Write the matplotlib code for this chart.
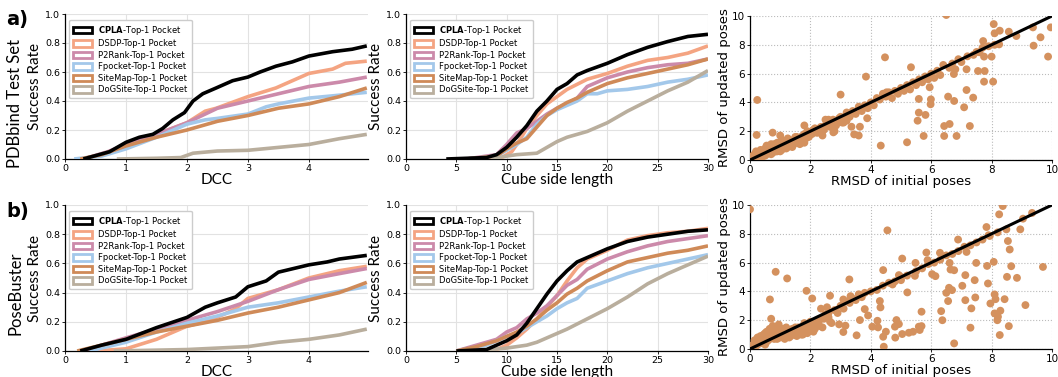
import matplotlib
matplotlib.use("Agg")
import matplotlib.pyplot as plt
from matplotlib.patches import Patch

# ---- data ----
methods = ['CPLA', 'DSDP', 'P2Rank', 'Fpocket', 'SiteMap', 'DoGSite']
colors = ['#000000', '#f4a482', '#cc8aaa', '#a3c8ea', '#cf8a58', '#b9ae9d']

# row a) PDBbind test set, success rate vs DCC
a_dcc_cpla = ([0.3, 0.73, 1.0, 1.22, 1.44, 1.6, 1.77, 1.96, 2.1, 2.26, 2.48, 2.75, 3.0, 3.2, 3.46, 3.73, 4.0, 4.39, 4.71, 4.95],
              [0.0, 0.05, 0.115, 0.15, 0.17, 0.21, 0.27, 0.32, 0.40, 0.45, 0.49, 0.54, 0.565, 0.60, 0.64, 0.67, 0.71, 0.74, 0.757, 0.78])
a_dcc_dsdp = ([0.3, 0.7, 1.0, 1.5, 2.0, 2.3, 2.48, 3.0, 3.46, 3.73, 4.0, 4.39, 4.6, 4.95],
              [0.0, 0.04, 0.08, 0.17, 0.25, 0.33, 0.35, 0.43, 0.49, 0.54, 0.59, 0.62, 0.66, 0.675])
a_dcc_p2rank = ([0.3, 0.7, 1.0, 1.5, 2.0, 2.3, 2.5, 3.0, 3.5, 4.0, 4.5, 4.95],
                [0.0, 0.05, 0.10, 0.17, 0.25, 0.31, 0.35, 0.40, 0.45, 0.50, 0.53, 0.565])
a_dcc_fpocket = ([0.15, 0.6, 1.0, 1.5, 2.0, 2.3, 2.5, 3.0, 3.3, 3.5, 4.0, 4.5, 4.95],
                 [0.0, 0.02, 0.07, 0.15, 0.24, 0.27, 0.28, 0.31, 0.36, 0.38, 0.42, 0.44, 0.46])
a_dcc_sitemap = ([0.25, 0.6, 1.0, 1.5, 2.0, 2.5, 3.0, 3.5, 4.0, 4.5, 4.95],
                 [0.0, 0.03, 0.09, 0.15, 0.20, 0.26, 0.30, 0.35, 0.38, 0.43, 0.49])
a_dcc_dogsite = ([0.85, 1.5, 1.9, 2.1, 2.5, 3.0, 3.5, 4.0, 4.5, 4.95],
                 [0.0, 0.005, 0.01, 0.04, 0.055, 0.06, 0.08, 0.10, 0.14, 0.17])

# row a) success rate vs cube side length
a_cube_cpla = ([4, 8, 9, 10, 11, 12, 13, 14, 15, 16, 17, 18, 20, 22, 24, 26, 28, 30],
               [0.0, 0.01, 0.03, 0.08, 0.15, 0.23, 0.33, 0.40, 0.48, 0.52, 0.58, 0.61, 0.66, 0.72, 0.77, 0.81, 0.845, 0.86])
a_cube_dsdp = ([6, 9.5, 10.5, 11, 12, 13, 14, 15, 16, 18, 20, 22, 24, 26, 28, 30],
               [0.0, 0.01, 0.05, 0.10, 0.21, 0.30, 0.38, 0.43, 0.48, 0.55, 0.59, 0.64, 0.68, 0.70, 0.73, 0.78])
a_cube_p2rank = ([6, 9, 10, 11, 12, 13, 14, 15, 16, 17, 18, 20, 22, 24, 26, 28, 30],
                 [0.0, 0.03, 0.10, 0.18, 0.21, 0.26, 0.31, 0.35, 0.38, 0.42, 0.50, 0.56, 0.60, 0.63, 0.65, 0.66, 0.69])
a_cube_fpocket = ([6, 9, 10, 11, 12, 13, 14, 15, 16, 17, 18, 19, 20, 22, 24, 26, 28, 30],
                  [0.0, 0.02, 0.06, 0.10, 0.15, 0.24, 0.30, 0.34, 0.37, 0.40, 0.45, 0.45, 0.47, 0.48, 0.50, 0.53, 0.55, 0.58])
a_cube_sitemap = ([6, 9, 10, 11, 12, 13, 14, 15, 16, 17, 18, 20, 22, 24, 26, 28, 30],
                  [0.0, 0.02, 0.07, 0.11, 0.14, 0.22, 0.30, 0.35, 0.39, 0.42, 0.46, 0.52, 0.56, 0.59, 0.62, 0.65, 0.69])
a_cube_dogsite = ([8.5, 10, 11, 13, 14, 15, 16, 18, 20, 22, 24, 26, 28, 30],
                  [0.0, 0.02, 0.03, 0.04, 0.08, 0.12, 0.15, 0.19, 0.25, 0.33, 0.40, 0.47, 0.53, 0.61])

# row b) PoseBuster, success rate vs DCC
b_dcc_cpla = ([0.25, 0.6, 1.0, 1.5, 2.0, 2.3, 2.5, 2.8, 3.0, 3.3, 3.5, 4.0, 4.3, 4.5, 4.95],
              [0.0, 0.04, 0.08, 0.16, 0.23, 0.30, 0.33, 0.37, 0.44, 0.48, 0.54, 0.59, 0.61, 0.63, 0.655])
b_dcc_dsdp = ([0.5, 1.0, 1.5, 2.0, 2.3, 2.6, 2.8, 3.0, 3.5, 4.0, 4.5, 4.95],
              [0.0, 0.015, 0.08, 0.17, 0.20, 0.25, 0.29, 0.36, 0.42, 0.50, 0.55, 0.58])
b_dcc_p2rank = ([0.3, 0.6, 1.0, 1.5, 2.0, 2.5, 3.0, 3.5, 4.0, 4.5, 4.95],
                [0.0, 0.04, 0.09, 0.15, 0.21, 0.27, 0.34, 0.42, 0.49, 0.53, 0.565])
b_dcc_fpocket = ([0.4, 0.7, 1.0, 1.5, 2.0, 2.5, 3.0, 3.5, 4.0, 4.5, 4.95],
                 [0.0, 0.03, 0.06, 0.13, 0.19, 0.24, 0.30, 0.33, 0.37, 0.41, 0.44])
b_dcc_sitemap = ([0.2, 0.6, 1.0, 1.5, 2.0, 2.5, 3.0, 3.5, 4.0, 4.5, 4.95],
                 [0.0, 0.04, 0.08, 0.13, 0.17, 0.21, 0.26, 0.30, 0.35, 0.40, 0.47])
b_dcc_dogsite = ([0.8, 2.0, 3.0, 3.5, 4.0, 4.5, 4.95],
                 [0.0, 0.01, 0.03, 0.06, 0.08, 0.11, 0.15])

# row b) success rate vs cube side length
b_cube_cpla = ([5, 8, 10, 11, 12, 13, 14, 15, 16, 17, 18, 20, 22, 24, 26, 28, 30],
               [0.0, 0.01, 0.07, 0.11, 0.19, 0.29, 0.39, 0.48, 0.55, 0.61, 0.64, 0.70, 0.75, 0.78, 0.80, 0.82, 0.83])
b_cube_dsdp = ([6, 9, 10, 11, 12, 13, 14, 15, 16, 17, 18, 20, 22, 24, 26, 28, 30],
               [0.0, 0.01, 0.04, 0.09, 0.15, 0.22, 0.30, 0.38, 0.48, 0.57, 0.63, 0.69, 0.76, 0.79, 0.81, 0.82, 0.84])
b_cube_p2rank = ([5, 7, 8, 9, 10, 11, 12, 13, 14, 15, 16, 17, 18, 20, 22, 24, 26, 28, 30],
                 [0.0, 0.04, 0.06, 0.08, 0.13, 0.16, 0.22, 0.26, 0.31, 0.38, 0.45, 0.49, 0.56, 0.63, 0.68, 0.72, 0.75, 0.77, 0.79])
b_cube_fpocket = ([5, 8, 10, 11, 12, 13, 14, 15, 16, 17, 18, 20, 22, 24, 26, 28, 30],
                  [0.0, 0.04, 0.10, 0.12, 0.16, 0.20, 0.24, 0.29, 0.33, 0.36, 0.43, 0.48, 0.53, 0.57, 0.60, 0.63, 0.66])
b_cube_sitemap = ([5, 7, 9, 10, 11, 12, 13, 14, 15, 16, 17, 18, 20, 22, 24, 26, 28, 30],
                  [0.0, 0.03, 0.07, 0.10, 0.13, 0.17, 0.22, 0.28, 0.33, 0.39, 0.43, 0.48, 0.55, 0.61, 0.64, 0.67, 0.69, 0.72])
b_cube_dogsite = ([7, 10, 12, 13, 14, 15, 16, 18, 20, 22, 24, 26, 28, 30],
                  [0.0, 0.02, 0.04, 0.06, 0.09, 0.12, 0.15, 0.22, 0.29, 0.37, 0.46, 0.53, 0.59, 0.65])

# RMSD scatter, row a
a_rmsd_init = [0.05, 0.1, 0.15, 0.2, 0.25, 0.3, 0.35, 0.4, 0.45, 0.5, 0.5, 0.55, 0.6, 0.65, 0.7, 0.7, 0.75, 0.8, 0.85, 0.9,
               0.95, 1.0, 1.0, 1.05, 1.1, 1.15, 1.2, 1.25, 1.3, 1.35, 1.4, 1.45, 1.5, 1.55, 1.6, 1.65, 1.7, 1.75, 1.8, 1.8,
               1.9, 2.0, 2.1, 2.2, 2.3, 2.4, 2.5, 2.6, 2.7, 2.8, 2.9, 3.0, 3.1, 3.2, 3.3, 3.4, 3.5, 3.6, 3.7, 3.8,
               3.9, 4.0, 4.1, 4.2, 4.3, 4.4, 4.5, 4.6, 4.7, 4.8, 4.9, 5.0, 5.1, 5.2, 5.3, 5.4, 5.5, 5.6, 5.7, 5.8,
               5.9, 6.0, 6.1, 6.2, 6.3, 6.4, 6.6, 6.7, 6.8, 6.9, 7.0, 7.2, 7.4, 7.5, 7.7, 7.9, 8.1,
               3.0, 3.05, 3.2, 3.36, 3.64, 3.45, 3.6, 2.76, 3.88, 4.52, 1.8, 1.0, 0.75, 0.22, 0.24, 2.5, 2.4,
               4.47, 3.84, 5.33, 4.33, 5.2, 5.75, 5.55, 5.59, 5.81, 5.59, 5.95, 5.99, 5.98, 6.43, 6.61, 6.43, 6.84,
               6.56, 6.76, 6.75, 7.17, 7.09, 7.39, 7.28, 7.17, 7.55, 7.77, 7.75, 8.05, 7.75, 8.0, 7.72, 8.07, 8.1,
               8.27, 8.25, 8.57, 8.82, 9.37, 9.39, 9.62, 9.87, 9.96, 6.5, 7.6,
               0.1, 0.15, 0.2, 0.3, 0.35, 0.4, 0.45, 0.5, 0.55, 0.6, 0.65, 0.7, 0.75, 0.8, 0.85, 0.9, 0.95, 1.0,
               1.05, 1.1, 1.15, 1.2, 1.25, 1.3, 1.35, 1.4, 1.45, 1.5, 1.55, 1.6, 1.65, 1.7, 1.75, 1.85, 1.9, 1.95,
               2.05, 2.15, 2.25, 2.35, 2.45, 2.55, 2.65, 2.75, 2.85, 2.95, 3.15, 3.35]
a_rmsd_upd = [0.1, 0.3, 0.05, 0.6, 0.2, 0.5, 0.7, 0.2, 0.6, 0.8, 0.3, 1.0, 0.5, 0.9, 0.4, 1.1, 0.7, 1.1, 0.6, 1.2,
              0.8, 1.0, 0.6, 1.4, 0.9, 1.2, 0.8, 1.5, 1.1, 1.3, 0.9, 1.4, 1.2, 1.6, 1.3, 1.1, 1.6, 1.4, 1.2, 1.8,
              1.7, 1.9, 2.1, 1.9, 2.2, 1.7, 2.4, 2.8, 2.5, 2.0, 2.7, 3.0, 2.6, 3.3, 3.0, 3.4, 3.2, 3.7, 3.4, 3.8,
              3.6, 4.0, 3.8, 4.3, 4.2, 4.6, 4.4, 4.7, 4.3, 4.8, 4.6, 5.0, 4.8, 5.2, 4.9, 5.4, 5.2, 5.6, 5.4, 5.8,
              5.6, 6.0, 5.7, 6.2, 5.9, 6.6, 6.4, 6.7, 6.3, 7.0, 6.8, 7.2, 7.3, 7.5, 7.8, 7.9, 8.0,
              4.54, 2.6, 2.73, 2.31, 2.31, 1.78, 1.7, 1.92, 2.9, 4.7, 2.4, 1.7, 1.9, 1.74, 4.17, 2.8, 2.0,
              7.13, 5.79, 6.44, 1.0, 1.23, 1.67, 2.73, 3.29, 3.13, 4.24, 5.05, 4.21, 3.87, 2.36, 2.5, 1.67, 1.67,
              4.4, 4.1, 5.97, 4.86, 3.66, 4.33, 2.36, 6.3, 6.18, 6.18, 5.44, 5.44, 7.18, 7.18, 8.26, 9.44, 8.8,
              8.98, 8.03, 8.91, 8.61, 9.21, 7.94, 8.52, 7.18, 9.21, 10.07, 7.48,
              0.0, 0.4, 0.1, 0.2, 0.3, 0.5, 0.3, 0.5, 0.4, 0.8, 0.5, 0.7, 0.5, 0.8, 0.9, 0.6, 1.1, 0.8,
              0.7, 1.2, 0.9, 1.1, 0.9, 1.4, 1.0, 1.2, 1.1, 1.6, 1.3, 1.5, 1.4, 1.2, 1.7, 1.5, 2.0, 1.6,
              1.8, 2.2, 1.9, 2.3, 2.1, 2.5, 2.3, 2.8, 2.4, 2.9, 3.0, 3.2]

# RMSD scatter, row b
b_rmsd_init = [0.05, 0.1, 0.15, 0.2, 0.25, 0.3, 0.35, 0.4, 0.45, 0.5, 0.5, 0.55, 0.6, 0.65, 0.7, 0.75, 0.8, 0.85, 0.9, 0.95,
               1.0, 1.05, 1.1, 1.15, 1.2, 1.25, 1.3, 1.35, 1.4, 1.5, 1.55, 1.6, 1.7, 1.75, 1.8, 1.85, 1.9, 2.0, 2.05, 2.1,
               2.2, 2.3, 2.35, 2.4, 2.5, 2.55, 2.6, 2.7, 2.8, 2.9, 3.0, 3.1, 3.2, 3.3, 3.4, 3.5, 3.6, 3.7, 3.8, 4.0,
               4.2, 4.4, 4.6, 4.8, 5.0, 5.2, 5.5, 5.7, 5.9, 6.1, 6.3, 6.5, 6.7, 6.9, 7.1, 7.3, 7.5, 7.7, 7.9, 8.2,
               0.0, 0.85, 1.23, 0.66, 0.7, 1.87, 2.06, 2.65, 3.29, 3.09, 3.33, 3.53, 3.09, 2.95, 3.16, 3.64, 3.8, 3.91,
               4.22, 4.05, 4.24, 4.41, 4.55, 4.3, 4.32, 4.41, 4.5, 4.43, 4.81, 4.8, 4.85, 4.93, 4.72, 4.93, 5.0, 5.04,
               5.04, 5.21, 5.26, 5.4, 5.48, 5.46, 5.59, 5.62, 5.68, 5.68, 5.84, 5.88, 6.03, 6.14, 6.33, 6.37, 6.5, 6.56,
               6.59, 6.64, 6.61, 6.76, 6.69, 6.76, 6.89, 7.03, 7.13, 7.13, 7.17, 7.3, 7.33, 7.44, 7.46, 7.49, 7.83, 7.85,
               7.88, 7.94, 7.96, 8.07, 8.1, 8.1, 8.13, 8.19, 8.21, 8.25, 8.27, 8.29, 8.37, 8.43, 8.49, 8.51, 8.54, 8.6,
               8.57, 8.65, 8.84, 8.95, 9.04, 9.12, 9.34, 9.7, 6.29,
               0.1, 0.15, 0.2, 0.25, 0.3, 0.35, 0.4, 0.45, 0.5, 0.55, 0.6, 0.65, 0.7, 0.75, 0.8, 0.85, 0.9, 0.95,
               1.0, 1.05, 1.1, 1.15, 1.2, 1.25, 1.3, 1.35, 1.4, 1.45, 1.5, 1.6, 1.65, 1.7, 1.8, 1.9, 1.95, 2.1,
               2.15, 2.25, 2.3, 2.45, 2.6, 2.65]
b_rmsd_upd = [0.1, 0.3, 0.6, 0.2, 0.8, 0.4, 0.9, 0.5, 1.0, 0.3, 0.7, 1.2, 0.6, 1.4, 0.9, 1.6, 0.7, 1.2, 1.0, 1.7,
              0.8, 1.3, 1.0, 0.7, 1.5, 1.1, 0.8, 1.3, 1.0, 1.5, 0.9, 1.2, 1.4, 1.0, 1.8, 1.3, 1.1, 1.9, 1.5, 1.2,
              1.6, 2.0, 2.8, 1.5, 2.4, 2.9, 2.2, 1.8, 2.7, 2.5, 3.0, 2.8, 3.3, 3.2, 3.5, 3.4, 3.8, 3.6, 3.9, 4.0,
              4.1, 4.4, 4.6, 4.7, 5.0, 5.1, 5.4, 5.6, 5.9, 6.0, 6.2, 6.5, 6.6, 6.8, 7.1, 7.2, 7.4, 7.6, 7.9, 8.1,
              9.7, 5.36, 4.9, 3.44, 2.1, 4.04, 3.51, 3.7, 4.83, 3.44, 3.67, 0.95, 1.18, 1.71, 1.62, 2.01, 2.77, 2.33,
              1.96, 1.55, 1.5, 5.48, 8.24, 3.33, 2.89, 0.85, 1.2, 0.16, 0.79, 1.55, 2.01, 1.73, 4.48, 5.13, 4.78, 6.28,
              1.04, 3.93, 1.13, 1.2, 5.98, 5.08, 1.55, 1.32, 2.59, 1.59, 6.7, 6.17, 5.2, 5.06, 2.63, 2.0, 3.9, 3.33,
              4.25, 5.52, 5.98, 5.47, 4.09, 0.39, 7.6, 4.39, 5.13, 3.39, 6.74, 1.48, 2.82, 4.78, 3.58, 5.98, 8.47, 5.77,
              4.55, 7.85, 3.16, 6.05, 3.79, 2.47, 3.46, 2.0, 2.24, 9.35, 0.97, 2.66, 9.93, 3.46, 8.31, 5.01, 7.5, 6.91,
              1.59, 5.75, 4.94, 8.31, 9.05, 3.05, 9.45, 5.7, 6.68,
              0.1, 0.3, 0.5, 0.3, 0.7, 0.4, 0.8, 0.6, 1.1, 0.5, 0.9, 0.7, 1.2, 0.8, 1.4, 0.9, 0.7, 1.2,
              1.1, 0.9, 1.4, 1.0, 0.9, 1.3, 1.1, 0.9, 1.4, 1.2, 1.0, 1.5, 1.2, 1.0, 1.5, 1.4, 1.7, 1.8,
              1.4, 1.9, 1.6, 2.1, 2.5, 1.9]

row_labels = ['PDBbind Test Set', 'PoseBuster']
panel_tags = ['a)', 'b)']

# ---- figure ----
W, H = 1058, 377
fig = plt.figure(figsize=(W / 100, H / 100), dpi=100)

label_font = ['Lato', 'DejaVu Sans']


def px_axes(x0, x1, top, bottom):
    return fig.add_axes([x0 / W, 1 - bottom / H, (x1 - x0) / W, (bottom - top) / H])


def style_axes(ax, grid_ls='-', grid_color='#e2e2e2'):
    for s in ['top', 'right']:
        ax.spines[s].set_visible(False)
    for s in ['left', 'bottom']:
        ax.spines[s].set_color('black')
        ax.spines[s].set_linewidth(0.9)
    ax.grid(True, ls=grid_ls, color=grid_color, lw=0.8)
    ax.set_axisbelow(True)
    ax.tick_params(labelsize=6.8, length=2, width=0.6, pad=1.5)


def draw_curves(ax, series):
    order = [1, 2, 3, 4, 5, 0]  # CPLA on top
    for i in order:
        xs, ys = series[i]
        ax.plot(xs, ys, color=colors[i], lw=2.6, solid_capstyle='butt', zorder=3 + (i == 0))
    handles = []
    for i, m in enumerate(methods):
        lab = (r'$\bf{CPLA}$' if m == 'CPLA' else m) + '-Top-1 Pocket'
        handles.append(Patch(facecolor='white', edgecolor=colors[i], linewidth=2.0, label=lab))
    ax.legend(handles=handles, loc='upper left', fontsize=6.0, frameon=True, framealpha=1,
              edgecolor='#cccccc', handlelength=2.2, handleheight=0.85, labelspacing=0.3,
              borderpad=0.5, handletextpad=0.8, bbox_to_anchor=(0.0, 0.99))
    ax.set_ylim(0, 1.0)
    ax.set_yticks([0, 0.2, 0.4, 0.6, 0.8, 1.0])


rows = [
    (14, 159, 16, 160, [a_dcc_cpla, a_dcc_dsdp, a_dcc_p2rank, a_dcc_fpocket, a_dcc_sitemap, a_dcc_dogsite],
     [a_cube_cpla, a_cube_dsdp, a_cube_p2rank, a_cube_fpocket, a_cube_sitemap, a_cube_dogsite],
     a_rmsd_init, a_rmsd_upd, 104),
    (205, 351, 205, 349, [b_dcc_cpla, b_dcc_dsdp, b_dcc_p2rank, b_dcc_fpocket, b_dcc_sitemap, b_dcc_dogsite],
     [b_cube_cpla, b_cube_dsdp, b_cube_p2rank, b_cube_fpocket, b_cube_sitemap, b_cube_dogsite],
     b_rmsd_init, b_rmsd_upd, 293),
]

for r, (top, bot, stop, sbot, dcc_series, cube_series, rx, ry, lab_y) in enumerate(rows):
    # DCC panel
    ax1 = px_axes(65, 368, top, bot)
    style_axes(ax1)
    draw_curves(ax1, dcc_series)
    ax1.set_xlim(0, 4.97)
    ax1.set_xticks([0, 1, 2, 3, 4])
    ax1.set_xlabel('DCC', fontsize=11, family=label_font, labelpad=0)
    ax1.set_ylabel('Success Rate', fontsize=11, family=label_font, labelpad=2)

    # cube side length panel
    ax2 = px_axes(406, 708, top, bot)
    style_axes(ax2)
    draw_curves(ax2, cube_series)
    ax2.set_xlim(0, 30)
    ax2.set_xticks([0, 5, 10, 15, 20, 25, 30])
    ax2.set_xlabel('Cube side length', fontsize=11, family=label_font, labelpad=0)
    ax2.set_ylabel('Success Rate', fontsize=11, family=label_font, labelpad=2)

    # RMSD scatter panel
    ax3 = px_axes(750, 1052, stop, sbot)
    style_axes(ax3, grid_ls=':', grid_color='#bbbbbb')
    ax3.scatter(rx, ry, s=32, color='#d4915e', edgecolors='none', zorder=3, clip_on=True)
    ax3.plot([0, 10], [0, 10], color='black', lw=2.2, zorder=4)
    ax3.set_xlim(0, 10)
    ax3.set_ylim(0, 10)
    ax3.set_xticks([0, 2, 4, 6, 8, 10])
    ax3.set_yticks([0, 2, 4, 6, 8, 10])
    ax3.tick_params(labelsize=7.5)
    ax3.set_xlabel('RMSD of initial poses', fontsize=9.5, labelpad=0)
    ax3.set_ylabel('RMSD of updated poses', fontsize=9.5, labelpad=1)

    fig.text(15 / W, 1 - lab_y / H, row_labels[r], rotation=90, fontsize=12, family=label_font,
             ha='center', va='center')
    fig.text(6 / W, 1 - (top + 6) / H, panel_tags[r], fontsize=14, fontweight='bold', ha='left', va='center')

fig.savefig('out.png', dpi=100)
